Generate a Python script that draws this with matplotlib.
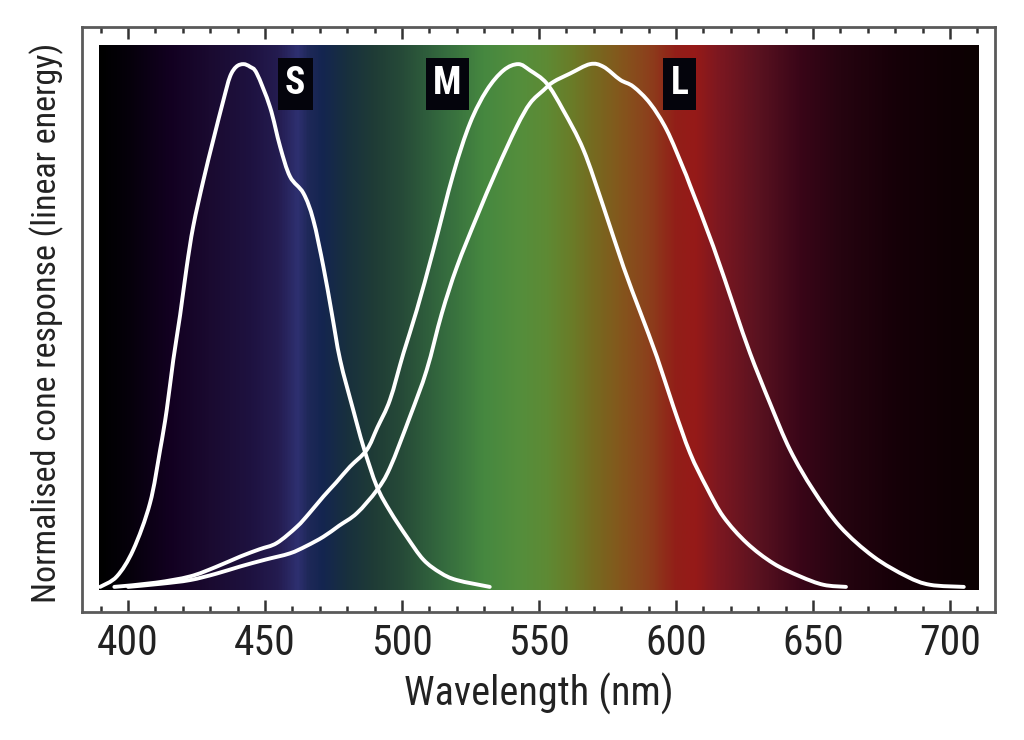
import numpy as np
import matplotlib
matplotlib.use("Agg")
import matplotlib.pyplot as plt
from matplotlib import font_manager as fm
from matplotlib.colors import LinearSegmentedColormap
from matplotlib.path import Path
from matplotlib.patches import PathPatch

# cone response curves (wavelength nm, normalised response)
s_nm = [389.8, 395.9, 401.9, 408.0, 411.7, 414.1, 416.5, 419.0, 421.4, 423.8,
        427.5, 431.1, 434.8, 437.2, 439.5, 442.1, 444.5, 447.0, 451.8, 455.5,
        459.1, 464.0, 467.6, 471.3, 474.3, 477.4, 482.2, 485.9, 490.8, 495.6,
        501.7, 507.8, 514.0, 520.0, 532.0]
s_val = [0.0, 0.02, 0.071, 0.16, 0.262, 0.338, 0.434, 0.52, 0.612, 0.69,
         0.778, 0.855, 0.931, 0.976, 0.995, 1.0, 0.995, 0.982, 0.918, 0.842,
         0.785, 0.753, 0.702, 0.612, 0.525, 0.434, 0.338, 0.268, 0.192, 0.145,
         0.096, 0.052, 0.027, 0.013, 0.0]

m_nm = [395.0, 410.0, 422.6, 432.0, 440.9, 448.0, 454.3, 461.6, 466.0, 471.3,
        476.0, 481.0, 487.1, 491.0, 495.6, 500.5, 505.4, 511.4, 518.7, 524.8,
        530.9, 537.0, 542.4, 546.7, 552.8, 558.8, 566.2, 573.5, 580.8, 586.9,
        593.0, 599.0, 605.1, 611.2, 617.3, 625.8, 635.5, 645.3, 653.8, 662.0]
m_val = [0.0, 0.008, 0.02, 0.038, 0.058, 0.072, 0.084, 0.115, 0.14, 0.173,
         0.2, 0.23, 0.262, 0.305, 0.358, 0.447, 0.53, 0.644, 0.79, 0.887,
         0.95, 0.988, 1.0, 0.988, 0.963, 0.912, 0.836, 0.727, 0.612, 0.526,
         0.44, 0.345, 0.256, 0.19, 0.134, 0.084, 0.045, 0.02, 0.004, 0.0]

l_nm = [400.0, 412.0, 422.6, 432.0, 440.9, 450.0, 459.0, 465.0, 471.3, 477.0,
        483.5, 490.8, 495.6, 502.9, 509.0, 514.5, 520.0, 527.3, 534.5, 541.8,
        546.7, 551.6, 555.2, 561.3, 568.6, 573.5, 579.6, 584.4, 590.5, 596.6,
        602.7, 605.1, 613.6, 621.5, 627.0, 634.3, 641.6, 650.1, 659.9, 672.0,
        684.2, 692.7, 705.0]
l_val = [0.0, 0.006, 0.013, 0.025, 0.039, 0.052, 0.064, 0.078, 0.096, 0.117,
         0.141, 0.185, 0.228, 0.326, 0.415, 0.523, 0.612, 0.708, 0.797, 0.88,
         0.925, 0.95, 0.966, 0.982, 1.0, 0.995, 0.97, 0.957, 0.925, 0.874,
         0.8, 0.768, 0.651, 0.53, 0.447, 0.351, 0.262, 0.185, 0.115, 0.058,
         0.02, 0.004, 0.0]

cone_names = ["S", "M", "L"]
label_nm = [461, 516.5, 601.3]

# background spectrum colours (wavelength stop -> colour)
spec_nm = [390, 400, 415, 430, 445, 455, 462, 466, 471, 480, 490, 500, 515,
           530, 543, 553, 562, 570, 580, 590, 600, 607, 615, 630, 645, 660,
           680, 700, 710]
spec_col = ["#000000", "#05000a", "#120020", "#1a0a30", "#1e1240", "#241c50",
            "#2e3070", "#1e2858", "#142550", "#18303e", "#1f3c36", "#264a38",
            "#346a3e", "#468840", "#548e3c", "#5e8a34", "#6a7c28", "#766a20",
            "#84561c", "#8c401c", "#921e18", "#961a18", "#7e1820", "#5a1220",
            "#3a0618", "#260410", "#160008", "#0e0004", "#0c0202"]

major_ticks = [400, 450, 500, 550, 600, 650, 700]


def smooth_path(xs, ys):
    # catmull-rom through the read points, drawn as bezier segments
    p = np.column_stack([xs, ys])
    pe = np.vstack([p[0], p, p[-1]])
    verts = [p[0]]
    codes = [Path.MOVETO]
    for i in range(len(p) - 1):
        p0, p1, p2, p3 = pe[i], pe[i + 1], pe[i + 2], pe[i + 3]
        verts += [p1 + (p2 - p0) / 6, p2 - (p3 - p1) / 6, p2]
        codes += [Path.CURVE4] * 3
    return Path(verts, codes)


# pick a narrow font if there is one
names = {f.name for f in fm.fontManager.ttflist}
font = "DejaVu Sans"
for cand in ["Roboto Condensed", "Liberation Sans Narrow", "Open Sans Condensed"]:
    if cand in names:
        font = cand
        break
plt.rcParams["font.family"] = [font, "DejaVu Sans"]
plt.rcParams["font.stretch"] = "condensed"

fig = plt.figure(figsize=(10.24, 7.4), dpi=100)
ax = fig.add_axes([0.0801, 0.173, 0.8916, 0.7905])

# spectrum gradient
lo, hi = spec_nm[0], spec_nm[-1]
stops = [(w - lo) / (hi - lo) for w in spec_nm]
cmap = LinearSegmentedColormap.from_list("spec", list(zip(stops, spec_col)), N=512)
grad = np.linspace(0, 1, 800).reshape(1, -1)
ax.imshow(grad, cmap=cmap, aspect="auto", extent=[389.4, 710.2, -0.006, 1.036],
          interpolation="bilinear", zorder=1)

for xs, ys in [(s_nm, s_val), (m_nm, m_val), (l_nm, l_val)]:
    ax.add_patch(PathPatch(smooth_path(xs, ys), fill=False, ec="white", lw=2.8,
                           capstyle="round", joinstyle="round", zorder=3))

for name, x in zip(cone_names, label_nm):
    ax.text(x, 0.962, name, color="white", fontsize=27, fontweight="bold",
            ha="center", va="center", zorder=4,
            bbox=dict(boxstyle="square,pad=0.2", fc="#04040c", ec="none"))

ax.set_xlim(383.2, 716.4)
ax.set_ylim(-0.048, 1.071)

ax.set_xticks(major_ticks)
ax.set_xticks(np.arange(390, 720, 10), minor=True)
ax.set_yticks([])
ax.tick_params(axis="x", which="both", direction="in", top=True, bottom=True,
               color="#333333", width=1.8, labelsize=30, labelcolor="#222222", pad=8)
ax.tick_params(axis="x", which="major", length=8.5)
ax.tick_params(axis="x", which="minor", length=4.5)

for sp in ax.spines.values():
    sp.set_color("#5a5a5a")
    sp.set_linewidth(2)

ax.set_xlabel("Wavelength (nm)", fontsize=29, color="#222222")
ax.xaxis.set_label_coords(0.5, -0.104)
ax.set_ylabel("Normalised cone response (linear energy)", fontsize=24.5,
              color="#222222")
ax.yaxis.set_label_coords(-0.02, 0.495)

fig.savefig("out.png", dpi=100, facecolor="white")
